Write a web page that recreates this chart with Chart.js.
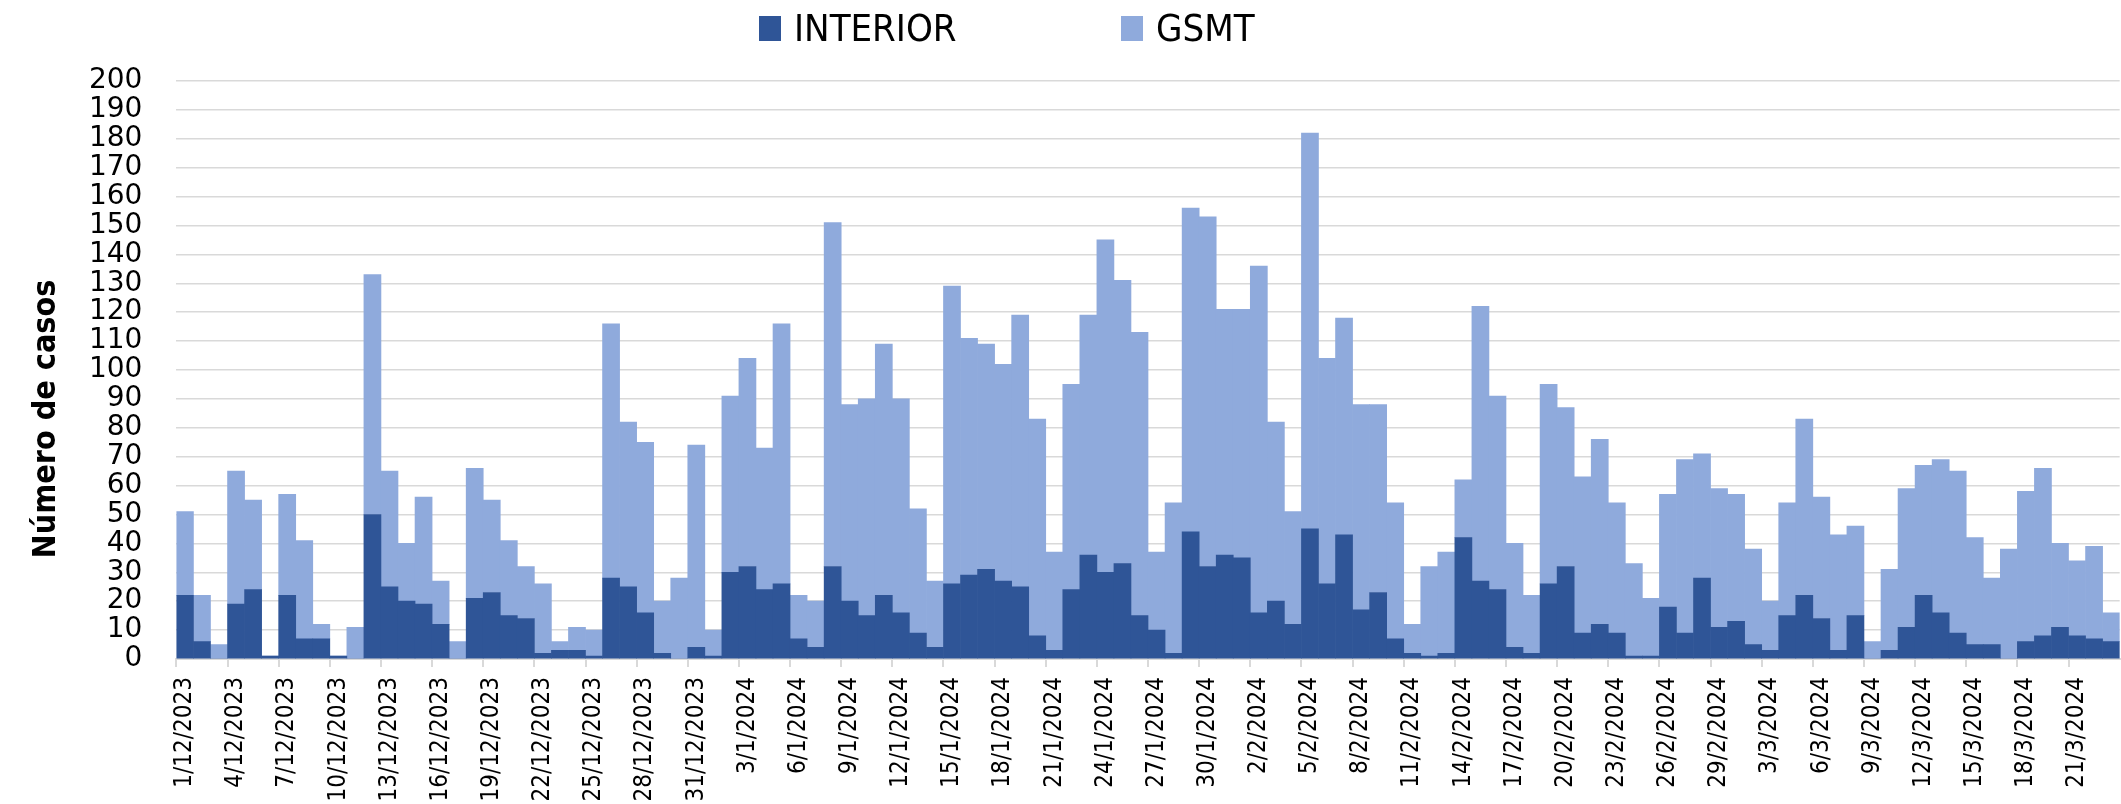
<!DOCTYPE html>
<html>
<head>
<meta charset="utf-8">
<script src="https://cdn.jsdelivr.net/npm/chart.js@4.4.1/dist/chart.umd.min.js"></script>
<style>
  html, body { margin: 0; padding: 0; background: #ffffff; overflow: hidden; }
  #wrap { position: relative; width: 2150px; height: 804px; }
</style>
</head>
<body>
<div id="wrap"><canvas id="c"></canvas></div>
<script>
const categories = [
  "1/12/2023","2/12/2023","3/12/2023","4/12/2023","5/12/2023","6/12/2023","7/12/2023","8/12/2023","9/12/2023","10/12/2023",
  "11/12/2023","12/12/2023","13/12/2023","14/12/2023","15/12/2023","16/12/2023","17/12/2023","18/12/2023","19/12/2023","20/12/2023",
  "21/12/2023","22/12/2023","23/12/2023","24/12/2023","25/12/2023","26/12/2023","27/12/2023","28/12/2023","29/12/2023","30/12/2023",
  "31/12/2023",
  "1/1/2024","2/1/2024","3/1/2024","4/1/2024","5/1/2024","6/1/2024","7/1/2024","8/1/2024","9/1/2024","10/1/2024",
  "11/1/2024","12/1/2024","13/1/2024","14/1/2024","15/1/2024","16/1/2024","17/1/2024","18/1/2024","19/1/2024","20/1/2024",
  "21/1/2024","22/1/2024","23/1/2024","24/1/2024","25/1/2024","26/1/2024","27/1/2024","28/1/2024","29/1/2024","30/1/2024",
  "31/1/2024",
  "1/2/2024","2/2/2024","3/2/2024","4/2/2024","5/2/2024","6/2/2024","7/2/2024","8/2/2024","9/2/2024","10/2/2024",
  "11/2/2024","12/2/2024","13/2/2024","14/2/2024","15/2/2024","16/2/2024","17/2/2024","18/2/2024","19/2/2024","20/2/2024",
  "21/2/2024","22/2/2024","23/2/2024","24/2/2024","25/2/2024","26/2/2024","27/2/2024","28/2/2024","29/2/2024",
  "1/3/2024","2/3/2024","3/3/2024","4/3/2024","5/3/2024","6/3/2024","7/3/2024","8/3/2024","9/3/2024","10/3/2024",
  "11/3/2024","12/3/2024","13/3/2024","14/3/2024","15/3/2024","16/3/2024","17/3/2024","18/3/2024","19/3/2024","20/3/2024",
  "21/3/2024","22/3/2024","23/3/2024"
];

const interior = [
  22,6,0,19,24,1,22,7,7,1,
  0,50,25,20,19,12,0,21,23,15,
  14,2,3,3,1,28,25,16,2,0,
  4,1,30,32,24,26,7,4,32,20,
  15,22,16,9,4,26,29,31,27,25,
  8,3,24,36,30,33,15,10,2,44,
  32,36,35,16,20,12,45,26,43,17,
  23,7,2,1,2,42,27,24,4,2,
  26,32,9,12,9,1,1,18,9,28,
  11,13,5,3,15,22,14,3,15,0,
  3,11,22,16,9,5,5,0,6,8,
  11,8,7,6
];

const gsmt = [
  29,16,5,46,31,0,35,34,5,0,
  11,83,40,20,37,15,6,45,32,26,
  18,24,3,8,9,88,57,59,18,28,
  70,9,61,72,49,90,15,16,119,68,
  75,87,74,43,23,103,82,78,75,94,
  75,34,71,83,115,98,98,27,52,112,
  121,85,86,120,62,39,137,78,75,71,
  65,47,10,31,35,20,95,67,36,20,
  69,55,54,64,45,32,20,39,60,43,
  48,44,33,17,39,61,42,40,31,6,
  28,48,45,53,56,37,23,38,52,58,
  29,26,32,10
];

const seriesNames = ["INTERIOR", "GSMT"];
const seriesColors = ["#2F5597", "#8FAADC"];
const yTitle = "Número de casos";

const condensed = '"DejaVu Sans Condensed", "DejaVu Sans", sans-serif';

const overlayPlugin = {
  id: 'overlay',
  afterDraw(chart) {
    const ctx = chart.ctx;
    ctx.save();
    // legend
    ctx.font = '38px ' + condensed;
    ctx.textBaseline = 'alphabetic';
    ctx.textAlign = 'left';
    const boxX = [759, 1121];
    chart.data.datasets.forEach((ds, i) => {
      ctx.fillStyle = ds.backgroundColor;
      ctx.fillRect(boxX[i], 16, 22, 25);
      ctx.fillStyle = '#000000';
      ctx.fillText(ds.label, boxX[i] + 35, 41);
    });
    // y axis title
    ctx.translate(47, 419);
    ctx.rotate(-Math.PI / 2);
    ctx.font = 'bold 32px ' + condensed;
    ctx.textAlign = 'center';
    ctx.textBaseline = 'middle';
    ctx.fillStyle = '#000000';
    ctx.fillText(yTitle, 0, 0);
    ctx.restore();
  }
};

new Chart(document.getElementById('c'), {
  type: 'bar',
  data: {
    labels: categories,
    datasets: [
      { label: seriesNames[0], data: interior, backgroundColor: seriesColors[0], borderWidth: 0,
        categoryPercentage: 1.0, barPercentage: 1.0 },
      { label: seriesNames[1], data: gsmt, backgroundColor: seriesColors[1], borderWidth: 0,
        categoryPercentage: 1.0, barPercentage: 1.0 }
    ]
  },
  options: {
    responsive: true,
    maintainAspectRatio: false,
    devicePixelRatio: 1,
    animation: false,
    layout: { padding: { top: 81, left: 0, right: 17, bottom: 0 } },
    plugins: {
      legend: { display: false },
      tooltip: { enabled: false },
      title: { display: false }
    },
    scales: {
      x: {
        stacked: true,
        offset: true,
        grid: {
          display: true,
          offset: true,
          drawOnChartArea: false,
          drawTicks: true,
          tickLength: 8,
          lineWidth: 2,
          tickColor: (c) => (c.index % 3 === 0 ? '#D9D9D9' : 'rgba(0,0,0,0)'),
          color: '#D9D9D9'
        },
        border: { display: true, color: '#D9D9D9', width: 2 },
        ticks: {
          autoSkip: false,
          maxRotation: 90,
          minRotation: 90,
          padding: 10,
          color: '#000000',
          font: { family: condensed, size: 24 },
          callback: function (value, index) {
            return index % 3 === 0 ? this.getLabelForValue(value) : '';
          }
        },
        afterFit: (scale) => { scale.height = 145; }
      },
      y: {
        stacked: true,
        min: 0,
        max: 200,
        grid: {
          color: '#D9D9D9',
          lineWidth: 1.5,
          drawTicks: false
        },
        border: { display: false },
        ticks: {
          stepSize: 10,
          autoSkip: false,
          padding: 34,
          color: '#000000',
          font: { family: '"DejaVu Sans", sans-serif', size: 28, lineHeight: 1.0 }
        },
        title: { display: false },
        afterFit: (scale) => { scale.width = 176.4; }
      }
    }
  },
  plugins: [overlayPlugin]
});
</script>
</body>
</html>
